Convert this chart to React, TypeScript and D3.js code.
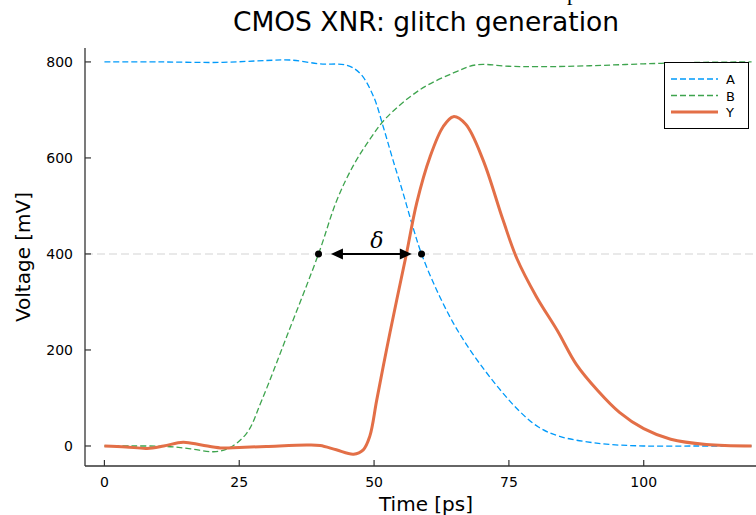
import { scaleLinear, line, curveCatmullRom } from 'd3';

// Waveforms (time in ps, voltage in mV)
const tA = [0, 10, 21.5, 30, 34.4, 40, 45, 47.5, 49.9, 51.7, 53.5, 55.4, 57.2, 58.8, 61.6, 64.7, 67.8, 70.9, 73.9, 77, 80.4, 84.4, 92, 100, 110, 120];
const vA = [800, 800, 799, 803, 804, 796, 793, 775, 728, 665, 596, 526, 456, 400, 325, 256, 200, 152, 110, 72, 40, 20, 5, 0, 0, 0];

const tB = [0, 5, 11.6, 16, 20.2, 23, 26.4, 29.2, 33.8, 39.7, 43.1, 46.2, 49.3, 52.3, 58.5, 64.7, 69, 75, 80.7, 90, 100, 110, 120];
const vB = [0, 0, -1, -6, -12, -5, 27, 96, 228, 400, 512, 585, 640, 684, 742, 777, 794, 791, 790, 792, 796, 799, 800];

const tY = [0, 4, 7.9, 11, 14.6, 18, 21.5, 25, 30, 37.5, 40, 43, 46.2, 48, 49.2, 50.5, 52.3, 54.2, 56, 57.9, 60.4, 62.8, 64.7, 67, 70.2, 73.9, 76.5, 80.1, 84, 87.5, 91.5, 95.5, 100, 105, 111.6, 120];
const vY = [0, -2, -5, 0, 8, 2, -4, -3, -1, 2, 1, -8, -17, -8, 20, 96, 200, 304, 400, 506, 603, 665, 686, 670, 596, 471, 390, 311, 240, 170, 115, 70, 36, 14, 3, 0];

const xTicks = [0, 25, 50, 75, 100];
const yTicks = [0, 200, 400, 600, 800];

const seriesNames = ['A', 'B', 'Y'];
const seriesColors = ['#009AFA', '#3EA44E', '#E36F47'];

// threshold crossings marked by the dots, the delta arrow tips and its label
const threshold = 400;
const crossT = [39.7, 58.8];
const arrowT = [42.0, 57.0];
const deltaT = 50.5;

const W = 756;
const H = 515;
const font = 'DejaVu Sans, sans-serif';

export default function App() {
  const x = scaleLinear().domain([-3.6, 123.6]).range([85, 771]);
  const y = scaleLinear().domain([-41.7, 829]).range([466, 48]);

  const mk = (ts: number[], vs: number[]) =>
    line<number>()
      .x((_, i) => x(ts[i]))
      .y((d) => y(d))
      .curve(curveCatmullRom.alpha(0.5))(vs) || '';

  const paths = [mk(tA, vA), mk(tB, vB), mk(tY, vY)];
  const dashes = ['6,3', '6,3', undefined];
  const widths = [1.3, 1.3, 3];

  const ay = y(threshold);
  const ax0 = x(arrowT[0]);
  const ax1 = x(arrowT[1]);
  const hl = 12; // arrow head length
  const hw = 5.5; // arrow head half width

  return (
    <div>
      <style>{'body{margin:0}'}</style>
      <svg width={W} height={H} style={{ display: 'block', background: '#fff' }}>
        <defs>
          <clipPath id="plotclip">
            <rect x={85} y={48} width={W - 85} height={466 - 48} />
          </clipPath>
        </defs>

        {/* cut-off text at the very top, as in the reference */}
        <text x={567} y={-0.5} fontFamily="Liberation Serif, serif" fontSize={22}>p</text>

        <text x={426} y={31} textAnchor="middle" fontFamily={font} fontSize={26.5}>
          CMOS XNR: glitch generation
        </text>

        {/* threshold line */}
        <line x1={85} x2={W} y1={ay} y2={ay} stroke="#e2e2e2" strokeWidth={1.5} strokeDasharray="8,4" />

        <g clipPath="url(#plotclip)">
          {paths.map((d, i) => (
            <path key={i} d={d} fill="none" stroke={seriesColors[i]} strokeWidth={widths[i]} strokeDasharray={dashes[i]} />
          ))}
        </g>

        {/* delta annotation */}
        {crossT.map((t) => (
          <circle key={t} cx={x(t)} cy={ay} r={3.5} fill="#000" />
        ))}
        <line x1={ax0 + hl - 1} x2={ax1 - hl + 1} y1={ay} y2={ay} stroke="#000" strokeWidth={2} />
        <path d={`M${ax0},${ay} L${ax0 + hl},${ay - hw} L${ax0 + hl},${ay + hw} Z`} fill="#000" />
        <path d={`M${ax1},${ay} L${ax1 - hl},${ay - hw} L${ax1 - hl},${ay + hw} Z`} fill="#000" />
        <text x={x(deltaT)} y={ay - 6} textAnchor="middle" fontFamily="DejaVu Serif, serif"
          fontStyle="italic" fontSize={22}>δ</text>

        {/* axes */}
        <line x1={85} x2={85} y1={48} y2={466} stroke="#333" strokeWidth={1.3} />
        <line x1={85} x2={W} y1={466} y2={466} stroke="#333" strokeWidth={1.3} />
        {yTicks.map((v) => (
          <g key={v}>
            <line x1={85} x2={91} y1={y(v)} y2={y(v)} stroke="#333" strokeWidth={1.2} />
            <text x={73} y={y(v) + 5} textAnchor="end" fontFamily={font} fontSize={14}>{v}</text>
          </g>
        ))}
        {xTicks.map((v) => (
          <g key={v}>
            <line x1={x(v)} x2={x(v)} y1={460} y2={466} stroke="#333" strokeWidth={1.2} />
            <text x={x(v)} y={487} textAnchor="middle" fontFamily={font} fontSize={14}>{v}</text>
          </g>
        ))}

        <text x={426} y={511} textAnchor="middle" fontFamily={font} fontSize={20}>Time [ps]</text>
        <text transform="translate(30,257) rotate(-90)" textAnchor="middle" fontFamily={font} fontSize={20}>
          Voltage [mV]
        </text>

        {/* legend */}
        <rect x={664.5} y={62.5} width={84} height={66} fill="#fff" stroke="#000" strokeWidth={1} />
        {seriesNames.map((n, i) => (
          <g key={n}>
            <line x1={671} x2={718} y1={79 + i * 16.5} y2={79 + i * 16.5} stroke={seriesColors[i]}
              strokeWidth={i === 2 ? 3 : 1.3} strokeDasharray={dashes[i]} />
            <text x={726} y={84 + i * 16.5} fontFamily={font} fontSize={13}>{n}</text>
          </g>
        ))}
      </svg>
    </div>
  );
}
